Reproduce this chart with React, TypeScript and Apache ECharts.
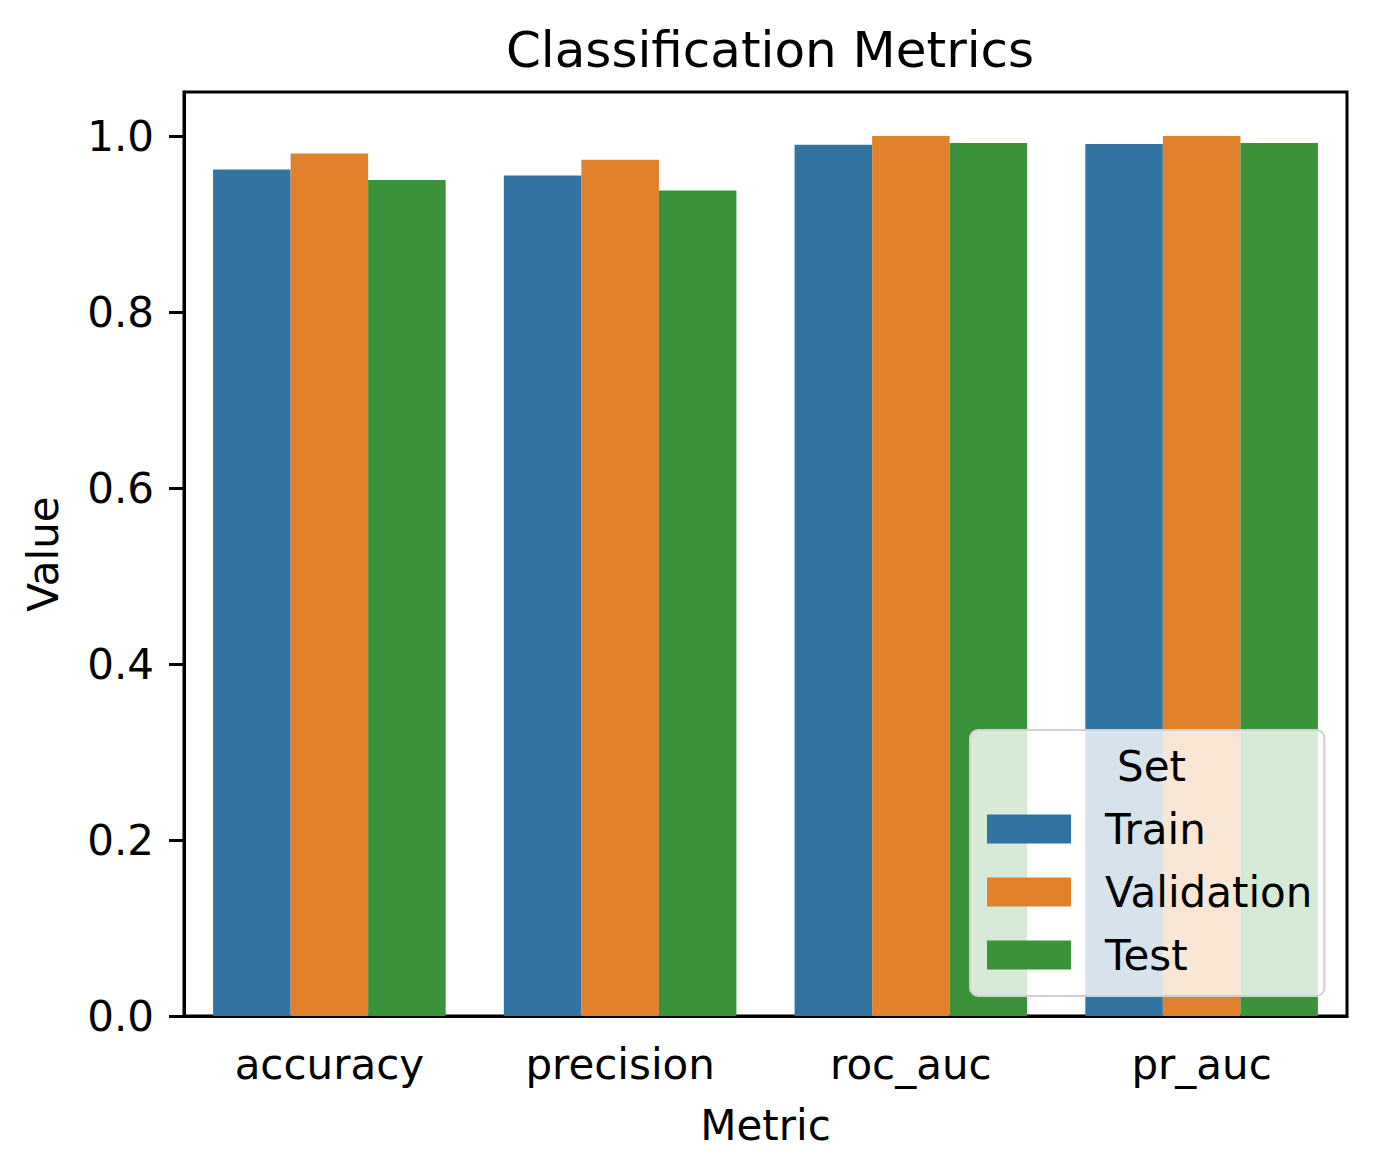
import React, { useEffect, useRef } from "react";
import * as echarts from "echarts";

const categories = ["accuracy", "precision", "roc_auc", "pr_auc"];
const seriesNames = ["Train", "Validation", "Test"];
const trainValues = [0.962, 0.955, 0.99, 0.991];
const validationValues = [0.98, 0.973, 1.0, 1.0];
const testValues = [0.95, 0.938, 0.992, 0.992];
const colors = ["#3274A1", "#E1812C", "#3A923A"];
const yTicks = [0, 0.2, 0.4, 0.6, 0.8, 1.0];

const FONT = "DejaVu Sans";

export default function App() {
  const ref = useRef<HTMLDivElement>(null);
  useEffect(() => {
    if (!ref.current) return;
    const chart = echarts.init(ref.current, null, { renderer: "svg" });
    const values = [trainValues, validationValues, testValues];
    chart.setOption({
      animation: false,
      backgroundColor: "#ffffff",
      textStyle: { fontFamily: FONT },
      title: {
        text: "Classification Metrics",
        left: 765,
        textAlign: "center",
        top: 20,
        textStyle: { fontFamily: FONT, fontSize: 50, fontWeight: "normal", color: "#000" },
      },
      grid: {
        left: 184,
        right: 29,
        top: 92,
        bottom: 160,
        show: true,
        borderColor: "#000",
        borderWidth: 3,
        backgroundColor: "transparent",
      },
      legend: {
        data: seriesNames,
        orient: "vertical",
        left: 970,
        top: 730,
        padding: [78, 12, 20, 17],
        itemWidth: 84,
        itemHeight: 29,
        itemGap: 21,
        backgroundColor: "rgba(255,255,255,0.8)",
        borderColor: "#d0d0d0",
        borderWidth: 2,
        borderRadius: 8,
        icon: "rect",
        textStyle: {
          fontFamily: FONT,
          fontSize: 42,
          color: "#000",
          lineHeight: 29,
          padding: [0, 0, 0, 29],
        },
        z: 10,
      },
      graphic: [
        {
          type: "text",
          left: 1149 - 32,
          top: 745,
          z: 100,
          style: { text: "Set", font: `42px '${FONT}'`, fill: "#000" },
        },
      ],
      xAxis: {
        type: "category",
        data: categories,
        name: "Metric",
        nameLocation: "middle",
        nameGap: 88,
        nameTextStyle: { fontFamily: FONT, fontSize: 42, color: "#000" },
        axisLine: { lineStyle: { color: "#000", width: 3 } },
        axisTick: { alignWithLabel: true, length: 15, lineStyle: { color: "#000", width: 3 } },
        axisLabel: { fontFamily: FONT, fontSize: 42, color: "#000", margin: 27 },
        splitLine: { show: false },
      },
      yAxis: {
        type: "value",
        min: 0,
        max: 1.05,
        interval: 0.2,
        name: "Value",
        nameLocation: "middle",
        nameGap: 120,
        nameTextStyle: { fontFamily: FONT, fontSize: 42, color: "#000" },
        axisLine: { show: true, lineStyle: { color: "#000", width: 3 } },
        axisTick: { show: true, length: 15, lineStyle: { color: "#000", width: 3 } },
        axisLabel: {
          fontFamily: FONT,
          fontSize: 42,
          color: "#000",
          margin: 30,
          showMaxLabel: false,
          formatter: (v: number) =>
            yTicks.some((t) => Math.abs(t - v) < 1e-9) ? v.toFixed(1) : "",
        },
        splitLine: { show: false },
      },
      series: seriesNames.map((name, i) => ({
        name,
        type: "bar",
        data: values[i],
        barGap: "0%",
        barCategoryGap: "20%",
        itemStyle: { color: colors[i] },
      })),
    });
    return () => chart.dispose();
  }, []);
  return (
    <div
      ref={ref}
      style={{ position: "absolute", left: 0, top: 0, width: 1376, height: 1176 }}
    />
  );
}
